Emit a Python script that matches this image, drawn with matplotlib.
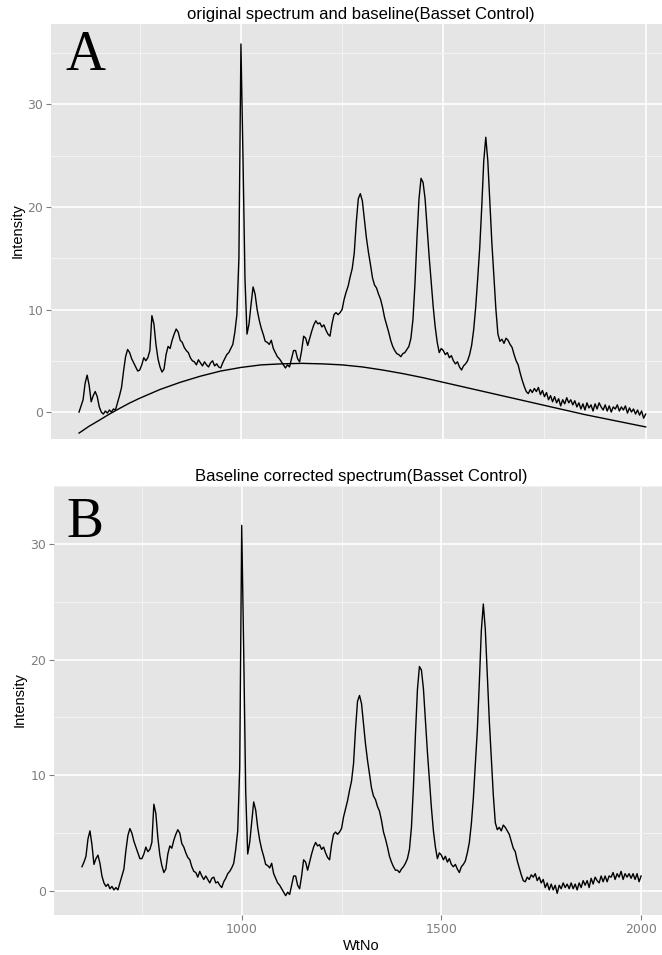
import numpy as np
import matplotlib
matplotlib.use("Agg")
import matplotlib.pyplot as plt

# wavenumber sampling grid (5 cm-1 steps)
wtno = np.arange(600, 2001, 5)

# original spectrum, panel A
spectrum = [
    0.0, 0.6, 1.2, 2.8, 3.6, 2.6, 1.0, 1.6, 2.0, 1.5,        # 600-645
    0.5, 0.0, -0.2, 0.1, -0.1, 0.2, 0.0, 0.3, 0.2, 0.9,      # 650-695
    1.6, 2.4, 4.0, 5.4, 6.1, 5.8, 5.2, 4.8, 4.4, 4.0,        # 700-745
    4.1, 4.6, 5.3, 5.0, 5.3, 6.0, 9.4, 8.6, 6.6, 5.2,        # 750-795
    4.4, 3.9, 4.2, 5.6, 6.4, 6.2, 7.0, 7.6, 8.1, 7.8,        # 800-845
    7.0, 6.8, 6.3, 6.0, 5.8, 5.3, 5.0, 4.9, 4.6, 5.1,        # 850-895
    4.8, 4.5, 4.9, 4.6, 4.4, 4.8, 5.0, 4.5, 4.7, 4.4,        # 900-945
    4.3, 4.8, 5.2, 5.6, 5.8, 6.2, 6.6, 7.8, 9.5, 15.0,       # 950-995
    35.9, 25.0, 13.0, 7.6, 8.6, 10.5, 12.2, 11.5, 10.0, 9.0, # 1000-1045
    8.2, 7.6, 6.9, 6.8, 6.6, 7.0, 6.2, 5.8, 5.4, 5.2,        # 1050-1095
    4.9, 4.6, 4.3, 4.6, 4.4, 5.2, 6.0, 6.0, 5.2, 4.9,        # 1100-1145
    6.0, 7.4, 7.2, 6.5, 7.2, 7.9, 8.5, 8.9, 8.6, 8.7,        # 1150-1195
    8.3, 8.5, 8.0, 7.6, 7.4, 8.6, 9.5, 9.7, 9.5, 9.7,        # 1200-1245
    10.0, 11.0, 11.7, 12.3, 13.2, 14.0, 15.5, 18.5, 20.8, 21.3,  # 1250-1295
    20.6, 18.8, 17.0, 15.6, 14.4, 13.1, 12.4, 12.1, 11.5, 11.0,  # 1300-1345
    10.2, 9.2, 8.5, 7.8, 7.0, 6.4, 6.0, 5.7, 5.6, 5.4,       # 1350-1395
    5.7, 5.8, 6.1, 6.4, 7.2, 9.0, 12.5, 17.0, 20.8, 22.8,    # 1400-1445
    22.4, 20.8, 18.0, 15.2, 12.8, 10.3, 8.3, 6.8, 5.8, 6.2,  # 1450-1495
    6.0, 5.6, 5.8, 5.3, 5.5, 5.0, 4.7, 4.9, 4.4, 4.1,        # 1500-1545
    4.5, 4.7, 5.0, 5.6, 6.5, 8.0, 10.2, 13.0, 16.0, 20.0,    # 1550-1595
    24.5, 26.8, 24.5, 20.5, 16.5, 13.3, 10.0, 7.6, 6.9, 7.1, # 1600-1645
    6.7, 7.2, 7.0, 6.6, 6.3, 5.6, 5.0, 4.6, 3.8, 3.1,        # 1650-1695
    2.5, 2.0, 1.8, 2.2, 1.9, 2.3, 2.0, 2.4, 1.7, 2.1,        # 1700-1745
    1.5, 1.9, 1.2, 1.6, 1.0, 1.5, 0.9, 1.3, 0.6, 1.2,        # 1750-1795
    0.8, 1.4, 0.9, 1.2, 0.7, 1.1, 0.5, 0.9, 0.3, 0.8,        # 1800-1845
    0.2, 0.9, 0.4, 0.7, 0.1, 0.8, 0.3, 0.9, 0.5, 0.2,        # 1850-1895
    0.7, 0.1, 0.6, 0.0, 0.5, 0.3, 0.7, 0.1, 0.5, 0.2,        # 1900-1945
    0.6, -0.1, 0.4, 0.0, 0.3, -0.2, 0.2, -0.3, 0.1, -0.6,    # 1950-1995
    -0.2,                                                    # 2000
]

# fitted baseline, panel A
base_x = [600, 625, 650, 675, 700, 725, 750, 800, 850, 900, 950, 1000, 1050,
          1100, 1150, 1200, 1250, 1300, 1350, 1400, 1450, 1500, 1550, 1600,
          1650, 1700, 1750, 1800, 1850, 1900, 1950, 2000]
base_y = [-2.05, -1.38, -0.8, -0.2, 0.35, 0.88, 1.35, 2.2, 2.9, 3.5, 4.0, 4.35,
          4.6, 4.7, 4.75, 4.7, 4.6, 4.4, 4.1, 3.75, 3.35, 2.9, 2.45, 2.0,
          1.55, 1.1, 0.65, 0.2, -0.25, -0.65, -1.05, -1.45]

# baseline corrected spectrum, panel B
corrected = [
    2.1, 2.5, 3.0, 4.5, 5.2, 4.0, 2.3, 2.8, 3.1, 2.4,        # 600-645
    1.3, 0.7, 0.4, 0.6, 0.2, 0.4, 0.1, 0.3, 0.1, 0.7,        # 650-695
    1.3, 1.9, 3.5, 4.8, 5.4, 5.0, 4.3, 3.8, 3.3, 2.8,        # 700-745
    2.8, 3.2, 3.8, 3.4, 3.6, 4.2, 7.5, 6.7, 4.6, 3.1,        # 750-795
    2.2, 1.6, 1.9, 3.2, 3.9, 3.7, 4.4, 4.9, 5.3, 5.0,        # 800-845
    4.1, 3.8, 3.3, 2.9, 2.7, 2.1, 1.7, 1.6, 1.2, 1.7,        # 850-895
    1.3, 1.0, 1.3, 1.0, 0.7, 1.1, 1.2, 0.7, 0.8, 0.5,        # 900-945
    0.3, 0.8, 1.1, 1.5, 1.7, 2.0, 2.4, 3.6, 5.2, 10.7,       # 950-995
    31.6, 20.6, 8.6, 3.2, 4.2, 6.0, 7.7, 7.0, 5.5, 4.4,      # 1000-1045
    3.6, 3.0, 2.3, 2.2, 2.0, 2.4, 1.5, 1.1, 0.7, 0.5,        # 1050-1095
    0.2, -0.1, -0.4, -0.1, -0.3, 0.5, 1.3, 1.3, 0.5, 0.2,    # 1100-1145
    1.3, 2.7, 2.5, 1.8, 2.5, 3.2, 3.8, 4.2, 3.9, 4.0,        # 1150-1195
    3.6, 3.8, 3.3, 2.9, 2.7, 4.0, 4.9, 5.1, 4.9, 5.1,        # 1200-1245
    5.4, 6.4, 7.1, 7.8, 8.7, 9.5, 11.0, 14.0, 16.4, 16.9,    # 1250-1295
    16.2, 14.4, 12.7, 11.3, 10.1, 8.9, 8.2, 7.9, 7.3, 6.9,   # 1300-1345
    6.1, 5.1, 4.5, 3.8, 3.0, 2.5, 2.1, 1.8, 1.8, 1.6,        # 1350-1395
    1.9, 2.1, 2.4, 2.8, 3.6, 5.5, 9.0, 13.5, 17.4, 19.4,     # 1400-1445
    19.1, 17.5, 14.7, 12.0, 9.6, 7.2, 5.2, 3.8, 2.8, 3.3,    # 1450-1495
    3.1, 2.7, 3.0, 2.5, 2.8, 2.3, 2.1, 2.3, 1.9, 1.6,        # 1500-1545
    2.1, 2.3, 2.6, 3.3, 4.2, 5.8, 8.0, 10.9, 13.9, 18.0,     # 1550-1595
    22.5, 24.8, 22.6, 18.6, 14.7, 11.5, 8.3, 5.9, 5.3, 5.5,  # 1600-1645
    5.2, 5.7, 5.5, 5.2, 4.9, 4.3, 3.7, 3.4, 2.6, 2.0,        # 1650-1695
    1.4, 0.9, 0.8, 1.2, 1.0, 1.4, 1.2, 1.5, 0.9, 1.2,        # 1700-1745
    0.7, 1.0, 0.3, 0.7, 0.1, 0.6, 0.1, 0.5, -0.2, 0.5,       # 1750-1795
    0.2, 0.7, 0.3, 0.6, 0.2, 0.7, 0.2, 0.6, 0.1, 0.7,        # 1800-1845
    0.3, 0.9, 0.5, 0.9, 0.3, 1.1, 0.6, 1.2, 0.9, 0.7,        # 1850-1895
    1.3, 0.8, 1.3, 0.8, 1.3, 1.2, 1.6, 1.0, 1.5, 1.2,        # 1900-1945
    1.7, 1.0, 1.5, 1.2, 1.5, 1.1, 1.5, 1.0, 1.5, 0.8,        # 1950-1995
    1.3,                                                     # 2000
]

x_ticks = [1000, 1500, 2000]
y_ticks = [0, 10, 20, 30]

PANEL = "#E5E5E5"
TXT = "#7F7F7F"

fig = plt.figure(figsize=(6.62, 9.55), dpi=100)


def ggplot_axes(ax, ylim):
    ax.set_facecolor(PANEL)
    for s in ax.spines.values():
        s.set_visible(False)
    ax.set_xlim(530, 2070)
    ax.set_ylim(*ylim)
    ax.set_xticks(x_ticks)
    ax.set_xticks([750, 1250, 1750], minor=True)
    ax.set_yticks(y_ticks)
    ax.set_yticks([5, 15, 25, 35], minor=True)
    ax.grid(which="major", color="white", lw=1.2)
    ax.grid(which="minor", color="#F2F2F2", lw=0.8)
    ax.set_axisbelow(True)
    ax.tick_params(which="major", direction="out", length=3.5, width=0.8,
                   color=TXT, labelcolor=TXT, labelsize=9, pad=2)
    ax.tick_params(which="minor", length=0)


# panel A: original spectrum with baseline
axA = fig.add_axes([0.0766, 0.5403, 0.9415, 0.4346])
ggplot_axes(axA, (-2.63, 37.85))
axA.plot(wtno, spectrum, color="black", lw=1.0)
axA.plot(base_x, base_y, color="black", lw=1.0)
axA.tick_params(axis="x", which="both", length=0, labelbottom=False)
axA.text(0.023, 0.889, "A", transform=axA.transAxes, fontsize=40,
         family="Liberation Serif", va="baseline", ha="left")

# panel B: corrected spectrum
axB = fig.add_axes([0.0816, 0.0419, 0.929, 0.4492])
ggplot_axes(axB, (-2.07, 33.39))
axB.plot(wtno, corrected, color="black", lw=1.0)
axB.text(0.021, 0.881, "B", transform=axB.transAxes, fontsize=40,
         family="Liberation Serif", va="baseline", ha="left")

# titles and axis labels (placed in figure pixels)
W, H = 662.0, 955.0
fig.text(361 / W, 1 - 14 / H, "original spectrum and baseline(Basset Control)",
         ha="center", va="center", fontsize=12, family="Liberation Sans")
fig.text(361 / W, 1 - 476 / H, "Baseline corrected spectrum(Basset Control)",
         ha="center", va="center", fontsize=12, family="Liberation Sans")
fig.text(18 / W, 1 - 231 / H, "Intensity", rotation=90, ha="center",
         va="center", fontsize=10.5, family="Liberation Sans")
fig.text(20 / W, 1 - 700 / H, "Intensity", rotation=90, ha="center",
         va="center", fontsize=10.5, family="Liberation Sans")
fig.text(361 / W, 1 - 946 / H, "WtNo", ha="center", va="center",
         fontsize=10.5, family="Liberation Sans")

fig.savefig("out.png", dpi=100)
